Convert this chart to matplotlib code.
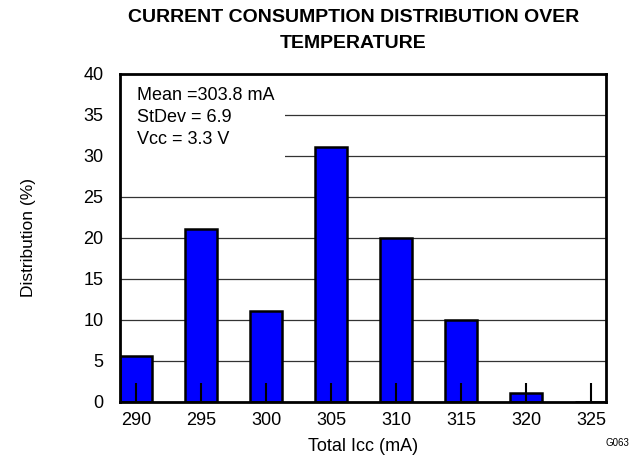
import matplotlib.pyplot as plt
from matplotlib.patches import Rectangle

plt.rcParams['font.family'] = ['Liberation Sans', 'DejaVu Sans']

# Icc distribution histogram data
icc_ma = [290, 295, 300, 305, 310, 315, 320, 325]
dist_pct = [5.6, 21.1, 11.1, 31.1, 20.0, 10.0, 1.1, 0.0]
stats_lines = ["Mean =303.8 mA", "StDev = 6.9", "Vcc = 3.3 V"]

fig = plt.figure(figsize=(6.36, 4.58), dpi=100)
ax = fig.add_axes([120 / 636, 1 - 402 / 458, 486 / 636, 328.5 / 458])

ax.bar(icc_ma, dist_pct, width=2.5, color="#0000ff", edgecolor="black",
       linewidth=1.8, zorder=3)

ax.set_xlim(288.77, 326.15)
ax.set_ylim(0, 40)
ax.set_xticks(icc_ma)
ax.set_yticks(range(0, 41, 5))
ax.tick_params(axis="x", direction="in", length=13.5, width=1.5, pad=7,
               labelsize=13, color="black")
ax.tick_params(axis="y", length=0, pad=12, labelsize=13)
ax.xaxis.set_zorder(5)

# horizontal grid lines
for yv in range(5, 40, 5):
    ax.axhline(yv, color="#333333", linewidth=0.9, zorder=1)

for s in ax.spines.values():
    s.set_linewidth(2)
    s.set_zorder(6)

# white box behind the stats text
ax.add_patch(Rectangle((0, 0.70), 0.34, 0.30, transform=ax.transAxes,
                       facecolor="white", edgecolor="none", zorder=2))
for i, line in enumerate(stats_lines):
    ax.text(0.034, 0.932 - i * 0.067, line, transform=ax.transAxes,
            fontsize=13, va="center", ha="left", zorder=4)

ax.set_xlabel("Total Icc (mA)", fontsize=13, labelpad=7)
ax.set_ylabel("Distribution (%)", fontsize=12.5, labelpad=34)

fig.text(353.5 / 636, 1 - 18 / 458, "CURRENT CONSUMPTION DISTRIBUTION OVER",
         ha="center", va="center", fontsize=14, fontweight="bold")
fig.text(353.5 / 636, 1 - 43 / 458, "TEMPERATURE",
         ha="center", va="center", fontsize=14, fontweight="bold")
fig.text(617 / 636, 1 - 443 / 458, "G063", ha="center", va="center",
         fontsize=7)

fig.savefig("out.png", dpi=100)
